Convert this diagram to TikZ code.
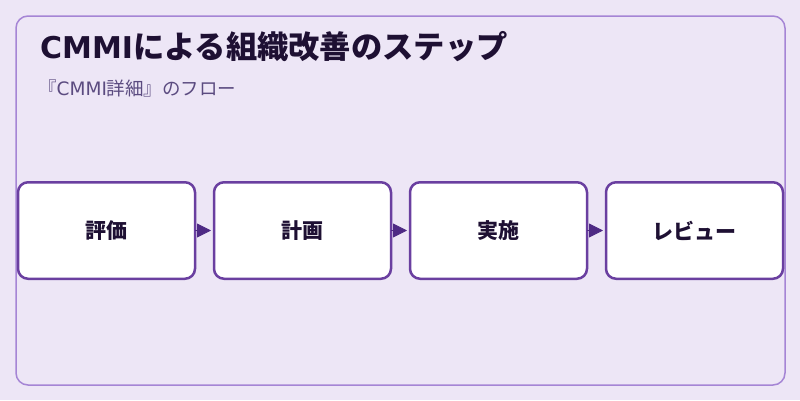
\documentclass[tikz,border=0pt]{standalone}
\usepackage{fontspec}
\setmainfont{Noto Sans CJK JP}
\newfontfamily\latinsans{DejaVu Sans}
\usetikzlibrary{arrows.meta,positioning}

\definecolor{pagebg}{HTML}{EDE6F6}
\definecolor{framecol}{HTML}{A585D5}
\definecolor{boxcol}{HTML}{6A3FA0}
\definecolor{tipcol}{HTML}{4E2A84}
\definecolor{titlecol}{HTML}{1E1033}
\definecolor{subcol}{HTML}{5B4B80}

\begin{document}
\begin{tikzpicture}[x=1pt,y=-1pt,node distance=19pt]
        \tikzstyle{stepbox}=[rectangle,rounded corners=10pt,line width=2.5pt,draw=boxcol,fill=white,
            minimum width=177pt,minimum height=96.5pt,outer sep=0pt,text=titlecol,
            font=\fontsize{21pt}{25pt}\selectfont\bfseries]
        \tikzstyle{into}=[{Triangle[length=14pt,width=14pt]}-,draw=tipcol,fill=tipcol,line width=0.8pt,shorten <=3pt]

        \fill[pagebg] (0,0) rectangle (800,400);
        \useasboundingbox (0,0) rectangle (800,400);
        \draw[framecol,line width=1.5pt,rounded corners=12pt] (16,16) rectangle (785,385); %frame

        \node [anchor=base west,inner sep=0pt,text=titlecol,font=\fontsize{31.3pt}{36pt}\selectfont\bfseries]
            (title) at (40,58) {{\latinsans\fontsize{30pt}{36pt}\selectfont CMMI}による組織改善のステップ};
        \node [anchor=base west,inner sep=0pt,text=subcol,font=\fontsize{18.5pt}{22pt}\selectfont]
            (subtitle) at (38,95) {『{\latinsans CMMI}詳細』のフロー};

        \node [stepbox] (eval) at (106.5,230.5) {評価}; %step 1
        \node [stepbox] (plan) [right=of eval] {計画}
            edge [into] (eval);
        \node [stepbox] (impl) [right=of plan] {実施}
            edge [into] (plan);
        \node [stepbox] (review) [right=of impl] {レビュー}
            edge [into] (impl);
    \end{tikzpicture}
\end{document}
